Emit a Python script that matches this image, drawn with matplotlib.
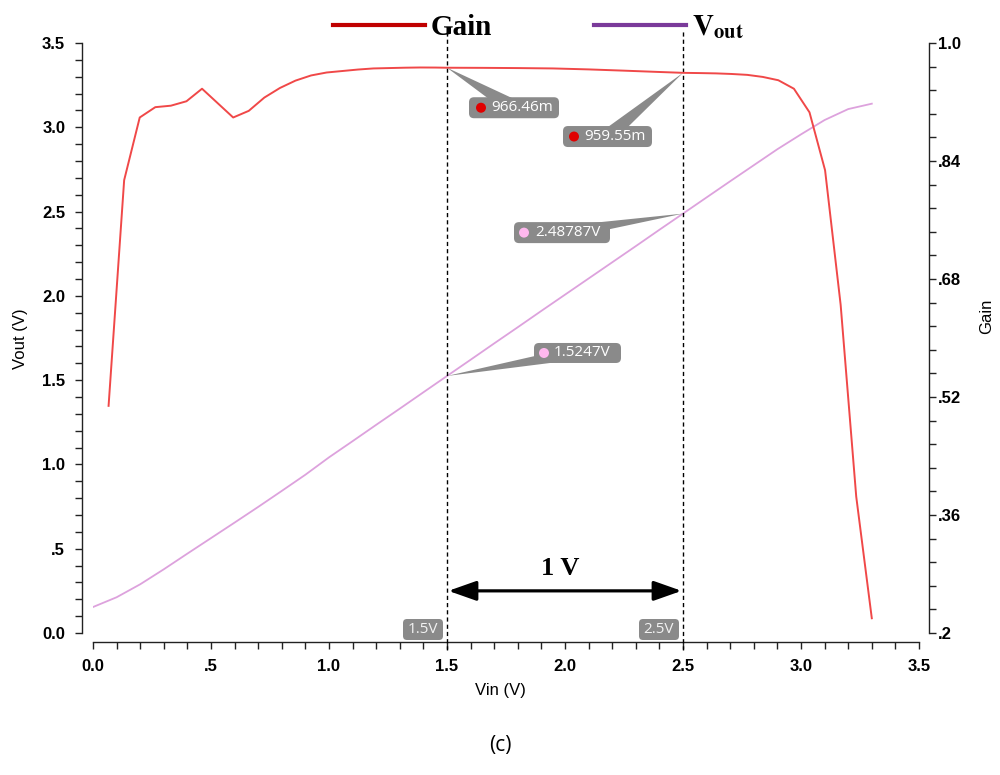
import matplotlib
matplotlib.use("Agg")
import matplotlib.pyplot as plt
import numpy as np
from matplotlib.patches import FancyBboxPatch, Polygon, Circle
from matplotlib.lines import Line2D
from matplotlib.ticker import MultipleLocator, FixedLocator, FixedFormatter
from matplotlib.transforms import IdentityTransform

plt.rcParams["mathtext.fontset"] = "stix"

# ---------------- data ----------------
vin_gain = [0.066, 0.132, 0.198, 0.264, 0.330, 0.396, 0.462, 0.594, 0.660, 0.726,
            0.792, 0.858, 0.924, 0.990, 1.056, 1.122, 1.188, 1.254, 1.320, 1.386,
            1.452, 1.5, 1.65, 1.8, 1.95, 2.1, 2.25, 2.4, 2.5, 2.574,
            2.640, 2.706, 2.772, 2.838, 2.904, 2.970, 3.036, 3.102, 3.168, 3.234, 3.300]
gain = [0.508, 0.814, 0.899, 0.913, 0.915, 0.921, 0.938, 0.899, 0.908, 0.926,
        0.939, 0.949, 0.956, 0.960, 0.962, 0.964, 0.9655, 0.966, 0.9665, 0.9668,
        0.9667, 0.96646, 0.9663, 0.9660, 0.9655, 0.9642, 0.9625, 0.9607, 0.95955, 0.9592,
        0.9588, 0.9580, 0.9568, 0.9540, 0.9495, 0.938, 0.906, 0.8275, 0.645, 0.385, 0.22]

vin_vout = [0.0, 0.1, 0.2, 0.3, 0.4, 0.5, 0.6, 0.7, 0.8, 0.9, 1.0, 1.1, 1.2, 1.3, 1.4,
            1.5, 1.6, 1.7, 1.8, 1.9, 2.0, 2.1, 2.2, 2.3, 2.4, 2.5, 2.6, 2.7, 2.8, 2.9,
            3.0, 3.1, 3.2, 3.3]
vout = [0.154, 0.212, 0.289, 0.378, 0.471, 0.563, 0.655, 0.748, 0.843, 0.939, 1.042,
        1.138, 1.235, 1.331, 1.428, 1.5247, 1.621, 1.718, 1.814, 1.911, 2.007, 2.103,
        2.199, 2.295, 2.392, 2.48787, 2.584, 2.680, 2.775, 2.870, 2.958, 3.043, 3.108, 3.140]

cursor_vin = [1.5, 2.5]
cursor_gain = [0.96646, 0.95955]
cursor_vout = [1.5247, 2.48787]
gain_labels = ["966.46m", "959.55m"]
vout_labels = ["1.5247V", "2.48787V"]
cursor_labels = ["1.5V", "2.5V"]
span_label = "1 V"

x_ticks = [0.0, 0.5, 1.0, 1.5, 2.0, 2.5, 3.0, 3.5]
x_tick_labels = ["0.0", ".5", "1.0", "1.5", "2.0", "2.5", "3.0", "3.5"]
left_ticks = [0.0, 0.5, 1.0, 1.5, 2.0, 2.5, 3.0, 3.5]
left_tick_labels = ["0.0", ".5", "1.0", "1.5", "2.0", "2.5", "3.0", "3.5"]
right_ticks = [0.2, 0.36, 0.52, 0.68, 0.84, 1.0]
right_tick_labels = [".2", ".36", ".52", ".68", ".84", "1.0"]
right_minor = [0.2 + 0.032 * i for i in range(26)]

# ---------------- styles ----------------
GAIN_COLOR = "#f04848"
VOUT_COLOR = "#dda2dd"
LEG_GAIN = "#c00000"
LEG_VOUT = "#7a3a9a"
BOX_GRAY = "#8a8a8a"
W, H = 1000, 775

fig = plt.figure(figsize=(10, 7.75), dpi=100)
ax = fig.add_axes([93 / W, 1 - 633 / H, 826 / W, 590 / H])
ax2 = ax.twinx()

ax.set_xlim(0, 3.5)
ax.set_ylim(0, 3.5)
ax2.set_ylim(0.2, 1.0)

ax.plot(vin_vout, vout, color=VOUT_COLOR, lw=1.3, zorder=2)
ax2.plot(vin_gain, gain, color=GAIN_COLOR, lw=1.4, zorder=2)

# spines
for s in ["top", "right"]:
    ax.spines[s].set_visible(False)
for s in ["top", "left", "bottom"]:
    ax2.spines[s].set_visible(False)
ax.spines["left"].set_position(("outward", 8))
ax.spines["bottom"].set_position(("outward", 6.5))
ax2.spines["right"].set_position(("outward", 7.2))
ax.spines["left"].set_bounds(0, 3.5)
ax.spines["bottom"].set_bounds(0, 3.5)
ax2.spines["right"].set_bounds(0.2, 1.0)
for sp in [ax.spines["left"], ax.spines["bottom"], ax2.spines["right"]]:
    sp.set_color("#222222")
    sp.set_linewidth(1.0)

tickfont = dict(family="Liberation Sans", weight="bold", size=12)
ax.xaxis.set_major_locator(FixedLocator(x_ticks))
ax.xaxis.set_major_formatter(FixedFormatter(x_tick_labels))
ax.xaxis.set_minor_locator(MultipleLocator(0.1))
ax.yaxis.set_major_locator(FixedLocator(left_ticks))
ax.yaxis.set_major_formatter(FixedFormatter(left_tick_labels))
ax.yaxis.set_minor_locator(MultipleLocator(0.1))
ax2.yaxis.set_major_locator(FixedLocator(right_ticks))
ax2.yaxis.set_major_formatter(FixedFormatter(right_tick_labels))
ax2.yaxis.set_minor_locator(FixedLocator(right_minor))

ax.tick_params(axis="x", which="both", direction="out", length=5, width=1, color="#222222", pad=7)
ax.tick_params(axis="y", which="both", direction="out", length=5, width=1, color="#222222", pad=7)
ax2.tick_params(axis="y", which="both", direction="out", length=5, width=1, color="#222222", pad=1.5)
for lab in ax.get_xticklabels() + ax.get_yticklabels() + ax2.get_yticklabels():
    lab.set_fontproperties(tickfont)

labfont = dict(family="Liberation Sans", size=12)
ax.set_xlabel("Vin (V)", **labfont)
ax.xaxis.set_label_coords((500 - 93) / 826, (633 - 690) / 590)
ax.xaxis.label.set_va("center")
ax.set_ylabel("Vout (V)", **labfont)
ax.yaxis.set_label_coords((20 - 93) / 826, (633 - 339) / 590)
ax.yaxis.label.set_va("center")
ax2.set_ylabel("Gain", **labfont)
ax2.yaxis.set_label_coords((987 - 93) / 826, (633 - 316) / 590)
ax2.yaxis.label.set_va("center")
ax2.yaxis.label.set_rotation(90)

# cursor lines
ax.vlines(cursor_vin, -0.10, 3.585, colors="black", linestyles=(0, (3, 2.2)), lw=1.0,
          clip_on=False, zorder=5)

ident = IdentityTransform()


def callout(axis, x, y, label, dot_color, dx, dy, w, h, dot_off, text_off, wedge_w):
    tx, ty = axis.transData.transform((x, y))
    cx, cy = tx + dx, ty + dy
    vx, vy = cx - tx, cy - ty
    L = np.hypot(vx, vy)
    nx, ny = -vy / L, vx / L
    poly = Polygon([(tx, ty), (cx + nx * wedge_w / 2, cy + ny * wedge_w / 2),
                    (cx - nx * wedge_w / 2, cy - ny * wedge_w / 2)],
                   closed=True, fc=BOX_GRAY, ec="none", transform=ident, zorder=6)
    fig.add_artist(poly)
    box = FancyBboxPatch((cx - w / 2, cy - h / 2), w, h,
                         boxstyle="round,pad=0,rounding_size=5",
                         fc=BOX_GRAY, ec="none", transform=ident, zorder=6)
    fig.add_artist(box)
    dot = Circle((cx - w / 2 + dot_off, cy), 5, fc=dot_color, ec="none",
                 transform=ident, zorder=7)
    fig.add_artist(dot)
    fig.text(cx - w / 2 + text_off, cy, label, transform=ident, ha="left", va="center",
             color="white", fontsize=11, family="Open Sans", zorder=7)


callout(ax2, cursor_vin[0], cursor_gain[0], gain_labels[0], "#e00000", 67, -40, 90, 21, 12, 22, 16)
callout(ax2, cursor_vin[1], cursor_gain[1], gain_labels[1], "#e00000", -75.5, -63.7, 89, 21, 11, 21, 15)
callout(ax, cursor_vin[1], cursor_vout[1], vout_labels[1], "#ffb8ee", -121, -19, 96, 21, 10, 21, 13)
callout(ax, cursor_vin[0], cursor_vout[0], vout_labels[0], "#ffb8ee", 130.5, 23, 87, 20, 10, 20, 13)

# cursor value tags at bottom
for xv, lab in zip(cursor_vin, cursor_labels):
    px, py = ax.transData.transform((xv, 0))
    bw, bh = 40, 21
    left = px - 4 - bw
    bottom = py - 7
    fig.add_artist(FancyBboxPatch((left, bottom), bw, bh, boxstyle="round,pad=0,rounding_size=4",
                                  fc=BOX_GRAY, ec="none", transform=ident, zorder=6))
    fig.text(left + bw / 2, bottom + bh / 2, lab, transform=ident, ha="center", va="center",
             color="#f2f2f2", fontsize=11, family="Open Sans", zorder=7)

# 1 V double arrow
ARROW_Y = 0.25
ax.annotate("", xy=(cursor_vin[1], ARROW_Y), xytext=(cursor_vin[0], ARROW_Y),
            arrowprops=dict(arrowstyle="<|-|>,head_length=0.85,head_width=0.3",
                            mutation_scale=20, lw=2.3, color="black",
                            shrinkA=1, shrinkB=1), zorder=6)
ax.text(np.mean(cursor_vin) - 0.02, 0.345, span_label, ha="center", va="baseline",
        family="Liberation Serif", weight="bold", fontsize=19)

# legend
handles = [Line2D([], [], color=LEG_GAIN, lw=3), Line2D([], [], color=LEG_VOUT, lw=3)]
labels = ["Gain", r"$\mathbf{V}_{\mathbf{out}}$"]
fig.legend(handles, labels, loc="upper left", bbox_to_anchor=(333 / W, 1 - 13 / H),
           ncol=2, frameon=False,
           prop=dict(family="Liberation Serif", weight="bold", size=21),
           handlelength=3.15, handletextpad=0.2, columnspacing=3.5,
           borderpad=0, borderaxespad=0)

fig.text(0.5, 1 - 745 / H, "(c)", ha="center", va="center", fontsize=15, family="Open Sans")

fig.savefig("out.png", dpi=100)
